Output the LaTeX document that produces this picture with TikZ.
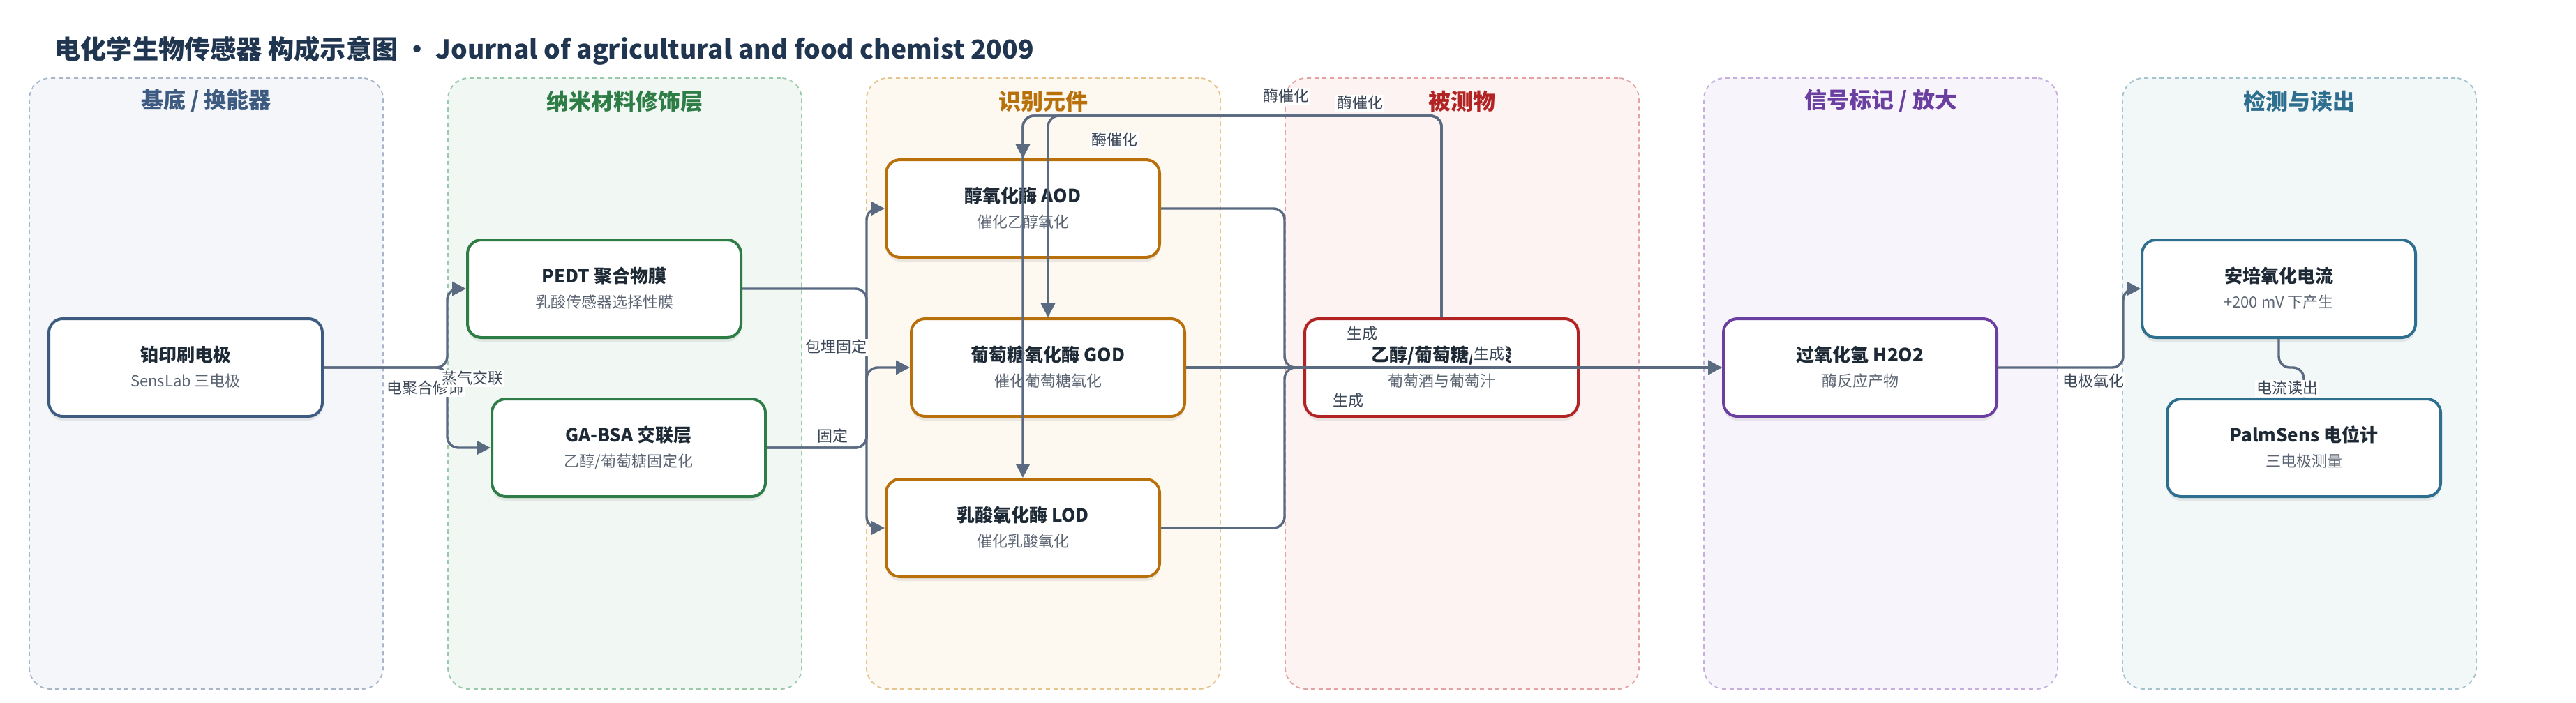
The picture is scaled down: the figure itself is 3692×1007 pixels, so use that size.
\documentclass[tikz,border=0pt]{standalone}
\usepackage{fontspec}
\setmainfont{Noto Sans CJK SC}
\usetikzlibrary{arrows.meta,shadows}
\definecolor{edgec}{HTML}{5A6A80}
\definecolor{labc}{HTML}{3B4656}
\definecolor{titlec}{HTML}{1E2936}
\definecolor{subc}{HTML}{5B6472}
\definecolor{headc}{HTML}{1F3550}
\definecolor{fA}{HTML}{F4F6FA}\definecolor{bA}{HTML}{A9B6C9}\definecolor{tA}{HTML}{3D5A80}
\definecolor{fB}{HTML}{F1F8F3}\definecolor{bB}{HTML}{9BC9A9}\definecolor{tB}{HTML}{2E7D46}
\definecolor{fC}{HTML}{FDF8F0}\definecolor{bC}{HTML}{E5C48E}\definecolor{tC}{HTML}{B8700A}
\definecolor{fD}{HTML}{FDF3F3}\definecolor{bD}{HTML}{E4A3A3}\definecolor{tD}{HTML}{B22424}
\definecolor{fE}{HTML}{F7F4FB}\definecolor{bE}{HTML}{C6AEDF}\definecolor{tE}{HTML}{6B3FA0}
\definecolor{fF}{HTML}{F2F7F8}\definecolor{bF}{HTML}{A3C3CE}\definecolor{tF}{HTML}{2E6E8E}
\begin{document}
\begin{tikzpicture}[x=0.5pt,y=-0.5pt,
  lane/.style={dashed, dash pattern=on 3pt off 2.5pt, line width=0.9pt, rounded corners=15pt,
    minimum width=253.5pt, minimum height=438pt, inner sep=0pt},
  lanetitle/.style={font=\fontsize{16}{18}\selectfont\bfseries, inner sep=0pt},
  box/.style={draw, fill=white, line width=2pt, rounded corners=10pt, minimum width=196pt,
    minimum height=70pt, inner sep=0pt,
    drop shadow={shadow xshift=0pt, shadow yshift=-3pt, opacity=0.14}},
  ttl/.style={font=\fontsize{13}{15}\selectfont\bfseries, text=titlec, text height=0.85em, text depth=0.15em, inner sep=0pt},
  sub/.style={font=\fontsize{11}{13}\selectfont, text=subc, text height=0.85em, text depth=0.15em, inner sep=0pt},
  conn/.style={draw=edgec, line width=1.7pt, rounded corners=8pt, -{Triangle[length=10pt,width=10pt]}},
  elabel/.style={fill=white, inner sep=1pt, font=\fontsize{11}{13}\selectfont, text=labc, text height=0.85em, text depth=0.15em}
]
\useasboundingbox (0,0) rectangle (3692,1007);
\fill[white] (0,0) rectangle (3692,1007);

% title
\node[anchor=west, font=\fontsize{18.6}{22}\selectfont\bfseries, text=headc, inner sep=0pt] (T) at (78,73)
  {电化学生物传感器 构成示意图 · Journal of agricultural and food chemist 2009};

% lanes
\node[lane, draw=bA, fill=fA] (L1) at (295.5,550) {};
\node[lane, draw=bB, fill=fB] (L2) at (895.5,550) {};
\node[lane, draw=bC, fill=fC] (L3) at (1495.5,550) {};
\node[lane, draw=bD, fill=fD] (L4) at (2095.5,550) {};
\node[lane, draw=bE, fill=fE] (L5) at (2695.5,550) {};
\node[lane, draw=bF, fill=fF] (L6) at (3295.5,550) {};
\node[lanetitle, text=tA] (L1t) at (295.5,145) {基底 / 换能器};
\node[lanetitle, text=tB] (L2t) at (895.5,145) {纳米材料修饰层};
\node[lanetitle, text=tC] (L3t) at (1495.5,145) {识别元件};
\node[lanetitle, text=tD] (L4t) at (2095.5,145) {被测物};
\node[lanetitle, text=tE] (L5t) at (2695.5,145) {信号标记 / 放大};
\node[lanetitle, text=tF] (L6t) at (3295.5,145) {检测与读出};

% nodes
\node[box, draw=tA] (E) at (266,527) {};
\node[ttl] (Et) at (266,511) {铂印刷电极};
\node[sub] (Es) at (266,547) {SensLab 三电极};

\node[box, draw=tB] (P) at (866,414) {};
\node[ttl] (Pt) at (866,398) {PEDT 聚合物膜};
\node[sub] (Ps) at (866,434) {乳酸传感器选择性膜};

\node[box, draw=tB] (G) at (901,642) {};
\node[ttl] (Gt) at (901,626) {GA-BSA 交联层};
\node[sub] (Gs) at (901,662) {乙醇/葡萄糖固定化};

\node[box, draw=tC] (AOD) at (1466,299) {};
\node[ttl] (AODt) at (1466,283) {醇氧化酶 AOD};
\node[sub] (AODs) at (1466,319) {催化乙醇氧化};

\node[box, draw=tC] (GOD) at (1502,527) {};
\node[ttl] (GODt) at (1502,511) {葡萄糖氧化酶 GOD};
\node[sub] (GODs) at (1502,547) {催化葡萄糖氧化};

\node[box, draw=tC] (LOD) at (1466,757) {};
\node[ttl] (LODt) at (1466,741) {乳酸氧化酶 LOD};
\node[sub] (LODs) at (1466,777) {催化乳酸氧化};

\node[box, draw=tD] (AN) at (2066,527) {};
\node[ttl] (ANt) at (2066,511) {乙醇/葡萄糖/乳酸};
\node[sub] (ANs) at (2066,547) {葡萄酒与葡萄汁};

\node[box, draw=tE] (H) at (2666,527) {};
\node[ttl] (Ht) at (2666,511) {过氧化氢 H2O2};
\node[sub] (Hs) at (2666,547) {酶反应产物};

\node[box, draw=tF] (AMP) at (3266,414) {};
\node[ttl] (AMPt) at (3266,398) {安培氧化电流};
\node[sub] (AMPs) at (3266,434) {+200 mV 下产生};

\node[box, draw=tF] (PS) at (3302,642) {};
\node[ttl] (PSt) at (3302,626) {PalmSens 电位计};
\node[sub] (PSs) at (3302,662) {三电极测量};

% connectors
\draw[conn] (E.east) -- (641,527) |- (P.west);
\draw[conn] (E.east) -- (641,527) |- (G.west);
\draw[conn] (P.east) -- (1242,414) |- (LOD.west);
\draw[conn] (G.east) -- (1242,642) |- (AOD.west);
\draw[conn] (G.east) -- (1242,642) |- (GOD.west);
\draw[conn] (AN.north) -- (2066,166) -| (AOD.north);
\draw[conn] (AN.north) -- (2066,166) -| (GOD.north);
\draw[conn] (AN.north) -- (2066,166) -| (LOD.north);
\draw[conn] (AOD.east) -- (1841,299) |- (H.west);
\draw[conn] (GOD.east) -- (H.west);
\draw[conn] (LOD.east) -- (1841,757) |- (H.west);
\draw[conn] (H.east) -- (3043,527) |- (AMP.west);
\draw[conn] (AMP.south) -- (3266,527) -| (PS.north);

% connector labels
\node[elabel] (l1) at (609,557) {电聚合修饰};
\node[elabel] (l2) at (677,543) {蒸气交联};
\node[elabel] (l3) at (1198,498) {包埋固定};
\node[elabel] (l4) at (1193,626) {固定};
\node[elabel] (l5) at (1843,138) {酶催化};
\node[elabel] (l6) at (1949,148) {酶催化};
\node[elabel] (l7) at (1597,201) {酶催化};
\node[elabel] (l8) at (1952,479) {生成};
\node[elabel] (l9) at (2134,508) {生成};
\node[elabel] (l10) at (1932,575) {生成};
\node[elabel] (l11) at (3000,547) {电极氧化};
\node[elabel] (l12) at (3278,557) {电流读出};
\end{tikzpicture}
\end{document}
